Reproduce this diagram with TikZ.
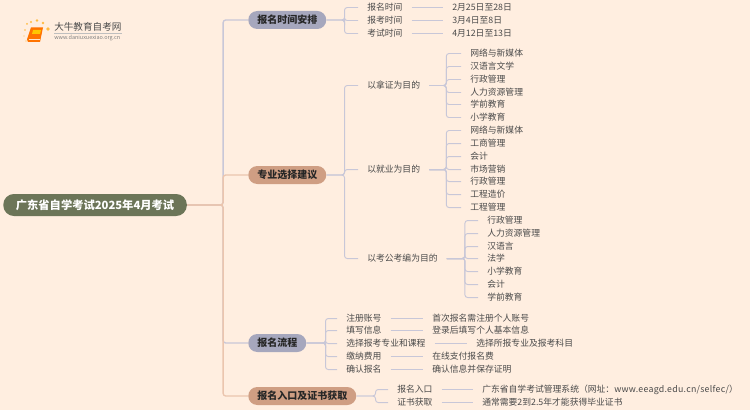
\documentclass[tikz,border=0pt]{standalone}
\usepackage{fontspec}
\setmainfont{Noto Sans CJK SC}
\definecolor{paper}{HTML}{FFEEE0}
\definecolor{rootfill}{HTML}{6C7558}
\definecolor{lavfill}{HTML}{A6A7BD}
\definecolor{peachfill}{HTML}{CF9E83}
\definecolor{lavline}{HTML}{C8C7D8}
\definecolor{peachline}{HTML}{EBC5AE}
\definecolor{inktext}{HTML}{4A4A4A}
\tikzset{
    rootbox/.style = {fill = rootfill, text = white, rounded corners = 8pt, minimum height = 16.5pt, inner xsep = 9.5pt, inner ysep = 0pt, text height = 7pt, text depth = 0.6pt, anchor = west, font = \fontsize{8.45}{10}\selectfont\bfseries},
    mainbox/.style = {rounded corners = 6.75pt, minimum height = 13.5pt, inner xsep = 6.75pt, inner ysep = 0pt, text height = 6.2pt, text depth = 0.4pt, anchor = west, text = black!85, font = \fontsize{7.5}{9}\selectfont\bfseries},
    leaf/.style = {anchor = west, inner xsep = 6.75pt, inner ysep = 0pt, yshift = -0.4pt, text = inktext, font = \fontsize{6.6}{8}\selectfont},
    lavlink/.style = {draw = lavline, line width = 0.7pt, rounded corners = 2pt},
    peachlink/.style = {draw = peachline, line width = 1pt, rounded corners = 2pt}
}

\begin{document}
\begin{tikzpicture}[x = 0.75pt, y = -0.75pt]
    \useasboundingbox[fill = paper] (0, 0) rectangle (750, 410);

    % logo
    \foreach \a/\b/\r in {25/30/0.8, 24/36/0.7, 27/24/1, 31/22/1.2, 37/20.5/1.4, 43/23/1.4, 48/29/1.8, 26/41/0.6}
        \fill[orange!70!yellow, opacity = 0.7] (\a, \b) circle (\r);
    \fill[orange!90!red] (31, 27.5) -- (43, 27.5) -- (40, 42) -- (28, 42) -- (27, 39.5) -- cycle;
    \fill[orange!45!yellow] (33, 30) -- (41, 30) -- (40, 34) -- (32, 34) -- cycle;
    \draw[white!80!orange, line width = 0.4pt] (28.5, 39.5) -- (39.5, 39.5);
    \node[inner sep = 0pt, anchor = west, text = inktext, font = \fontsize{7.2}{9}\selectfont] (logoname) at (54, 27) {大牛教育自考网};
    \node[inner sep = 0pt, anchor = west, text = gray, font = \fontsize{4.1}{5}\selectfont] (logourl) at (54, 38.5) {www.daniuxuexiao.org.cn};
    \draw[black!25, line width = 0.4pt] (logoname.south west) ++(0, 1.5) -- ++(68, 0);

    % root and main branches
    \node[rootbox] (root) at (3, 205) {广东省自学考试2025年4月考试};
    \node[mainbox, fill = lavfill] (time) at (248, 20) {报名时间安排};
    \node[mainbox, fill = peachfill] (major) at (248, 175) {专业选择建议};
    \node[mainbox, fill = lavfill] (flow) at (248, 343) {报名流程};
    \node[mainbox, fill = peachfill] (entry) at (248, 396) {报名入口及证书获取};

    % registration dates
    \foreach \n/\y/\t/\d in {ta/7/报名时间/2月25日至28日, tb/20/报考时间/3月4日至8日, tc/33/考试时间/4月12日至13日} {
        \node[leaf] (\n) at (358, \y) {\t};
        \node[leaf] (\n x) at (443, \y) {\d};
        \draw[lavlink] (time.east) -- ++(18, 0) |- (\n.west);
        \draw[lavlink] (\n.east) -- (\n x.west);
    }

    % goals
    \node[leaf] (goala) at (358, 85) {以拿证为目的};
    \node[leaf] (goalb) at (358, 169) {以就业为目的};
    \node[leaf] (goalc) at (358, 258) {以考公考编为目的};
    \foreach \n in {goala, goalb, goalc}
        \draw[lavlink] (major.east) -- ++(18, 0) |- (\n.west);

    \foreach \n/\y/\t in {aa/53/网络与新媒体, ab/66/汉语言文学, ac/79/行政管理, ad/92/人力资源管理, ae/104/学前教育, af/117/小学教育} {
        \node[leaf] (\n) at (461, \y) {\t};
        \draw[lavlink] (goala.east) -- ++(17, 0) |- (\n.west);
    }
    \foreach \n/\y/\t in {ba/130/网络与新媒体, bb/143/工商管理, bc/156/会计, bd/169/市场营销, be/181/行政管理, bf/194/工程造价, bg/207/工程管理} {
        \node[leaf] (\n) at (461, \y) {\t};
        \draw[lavlink] (goalb.east) -- ++(17, 0) |- (\n.west);
    }
    \foreach \n/\y/\t in {ca/220/行政管理, cb/233/人力资源管理, cc/246/汉语言, cd/258/法学, ce/271/小学教育, cf/284/会计, cg/297/学前教育} {
        \node[leaf] (\n) at (478, \y) {\t};
        \draw[lavlink] (goalc.east) -- ++(18, 0) |- (\n.west);
    }

    % registration steps
    \foreach \n/\y/\t/\d/\p in {fa/318/注册账号/首次报名需注册个人账号/423, fb/330/填写信息/登录后填写个人基本信息/423, fc/343/选择报考专业和课程/选择所报专业及报考科目/467, fd/356/缴纳费用/在线支付报名费/423, fe/369/确认报名/确认信息并保存证明/423} {
        \node[leaf] (\n) at (337, \y) {\t};
        \node[leaf] (\n x) at (\p, \y) {\d};
        \draw[lavlink] (flow.east) -- ++(19, 0) |- (\n.west);
        \draw[lavlink] (\n.east) -- (\n x.west);
    }

    % entry and certificate
    \foreach \n/\y/\t/\d in {ea/389/报名入口/{广东省自学考试管理系统（网址：{\addfontfeature{LetterSpace=3}www.eeagd.edu.cn/selfec/}）}, eb/402/证书获取/通常需要2到2.5年才能获得毕业证书} {
        \node[leaf] (\n) at (388, \y) {\t};
        \node[leaf] (\n x) at (473, \y) {\d};
        \draw[lavlink] (entry.east) -- ++(19, 0) |- (\n.west);
        \draw[lavlink] (\n.east) -- (\n x.west);
    }

    % spine
    \draw[lavlink, line width = 1pt] (root.east) -- ++(36, 0) |- (time.west);
    \draw[lavlink, line width = 1pt] (root.east) -- ++(36, 0) |- (flow.west);
    \draw[peachlink] (root.east) -- ++(36, 0) |- (major.west);
    \draw[peachlink] (root.east) -- ++(36, 0) |- (entry.west);
\end{tikzpicture}
\end{document}
